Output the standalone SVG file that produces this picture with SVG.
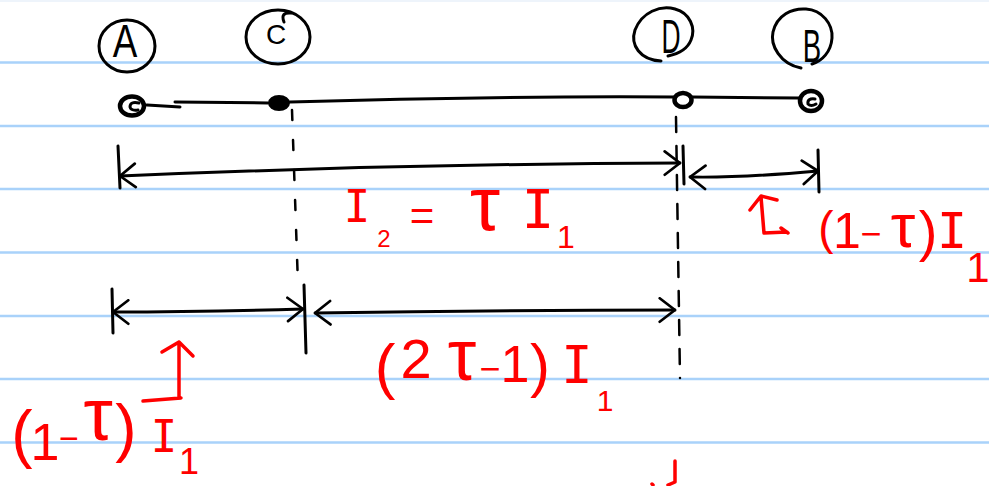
<svg xmlns="http://www.w3.org/2000/svg" width="989" height="486" viewBox="0 0 989 486">
<defs>
<style>
.rule{stroke:#a9d2fa;stroke-width:2.5;fill:none}
.ink{stroke:#000;stroke-width:3;fill:none;stroke-linecap:round;stroke-linejoin:round}
.dot{stroke:#000;stroke-width:4.5;fill:#fff}
.dash{stroke:#000;stroke-width:2.5;fill:none;stroke-linecap:round}
.red{stroke:#f00;stroke-width:3.5;fill:none;stroke-linecap:round;stroke-linejoin:round}
.lbl{font-family:"Liberation Sans","DejaVu Sans",sans-serif;fill:#000;text-anchor:middle}
.rt{font-family:"Liberation Sans","DejaVu Sans",sans-serif;fill:#f00;text-anchor:middle}
.mono{font-family:"DejaVu Sans Mono","Liberation Mono",monospace}
</style>
<marker id="ah" viewBox="0 0 20 30" refX="19" refY="15" markerWidth="18" markerHeight="27" markerUnits="userSpaceOnUse" orient="auto-start-reverse">
<path d="M2,2 L19,15 L2,28" fill="none" stroke="#000" stroke-width="3" stroke-linecap="round" stroke-linejoin="round"/>
</marker>
</defs>
<rect width="989" height="486" fill="#fff"/>
<g id="ruled-lines">
<line x1="0" y1="1" x2="989" y2="1" stroke="#eef4fb" stroke-width="2"/>
<line class="rule" x1="0" y1="62.5" x2="989" y2="62.5"/>
<line class="rule" x1="0" y1="126" x2="989" y2="126"/>
<line class="rule" x1="0" y1="189" x2="989" y2="189"/>
<line class="rule" x1="0" y1="252.5" x2="989" y2="252.5"/>
<line class="rule" x1="0" y1="316" x2="989" y2="316"/>
<line class="rule" x1="0" y1="379" x2="989" y2="379"/>
<line class="rule" x1="0" y1="442.5" x2="989" y2="442.5"/>
</g>
<g id="connectors">
<path class="ink" d="M147,105 L180,107"/>
<path class="ink" d="M175,102 L268,103"/>
<path class="ink" d="M290,102 Q480,96 675,97"/>
<path class="ink" d="M692,97 L800,98"/>
<path class="dash" d="M292,110 L298,285" stroke-dasharray="10 20"/>
<path class="dash" d="M676,117 L680,378" stroke-dasharray="15 14"/>
<path class="ink" d="M118,146 L120,188"/>
<path class="ink" d="M683,146 L684,184"/>
<path class="ink" d="M120,176 Q400,164 680,163" marker-start="url(#ah)" marker-end="url(#ah)"/>
<path class="ink" d="M818,150 L819,192"/>
<path class="ink" d="M690,177 Q740,178 818,171" marker-start="url(#ah)" marker-end="url(#ah)"/>
<path class="ink" d="M112,289 L113,333"/>
<path class="ink" d="M304,285 L306,353"/>
<path class="ink" d="M113,312 Q200,312 303,309" marker-start="url(#ah)" marker-end="url(#ah)"/>
<path class="ink" d="M315,313 Q500,310 675,310" marker-start="url(#ah)" marker-end="url(#ah)"/>
<path class="red" d="M764,233 L761,197 M750,210 L761,196 L777,200 M764,233 L787,232 M781,228 L788,233"/>
<path class="red" d="M179,398 L179,342 M162,352 L179,342 L193,356 M181,398 L143,401"/>
<path class="red" d="M675,461 L675,482 L668,485 M652,484 L653,485"/>
</g>
<g id="node-A">
<ellipse class="ink" cx="127" cy="46" rx="28" ry="26"/>
<text class="lbl" x="125" y="57" font-size="46" transform="translate(125,0) scale(0.8,1) translate(-125,0)">A</text>
<ellipse class="dot" cx="132" cy="106" rx="12" ry="9.5"/>
<path class="ink" d="M139,103 Q130,101 130,107 Q131,111 138,110"/>
</g>
<g id="node-C">
<ellipse class="ink" cx="278" cy="37" rx="32" ry="27"/>
<path class="ink" d="M284,22 Q280,12 291,13"/>
<text class="lbl" x="276" y="44" font-size="28">C</text>
<ellipse cx="279" cy="103" rx="11" ry="8" fill="#000"/>
</g>
<g id="node-D">
<path class="ink" d="M661,61 C640,60 630,45 635,30 C642,12 660,5 675,9 C690,13 696,28 691,40 C687,50 678,54 668,56"/>
<text class="lbl" x="671" y="53" font-size="48" transform="translate(671,0) scale(0.55,1) translate(-671,0)">D</text>
<ellipse class="dot" cx="683" cy="100" rx="8.5" ry="7"/>
</g>
<g id="node-B">
<path class="ink" d="M801,68 C780,64 770,45 773,32 C777,15 792,8 806,9 C822,10 833,24 832,38 C831,52 822,61 812,64"/>
<text class="lbl" x="812" y="62" font-size="46" transform="translate(812,0) scale(0.6,1) translate(-812,0)">B</text>
<ellipse class="dot" cx="811" cy="101" rx="11" ry="10"/>
<path class="ink" d="M815,99 Q807,98 808,104 Q811,107 816,104"/>
</g>
<g id="labels">
<text class="rt"><tspan class="mono" x="357" y="222" font-size="44">I</tspan><tspan x="384" y="247" font-size="24">2</tspan><tspan x="422" y="230" font-size="42">=</tspan><tspan x="485" y="230" font-size="76">τ</tspan><tspan class="mono" x="538" y="228" font-size="54">I</tspan><tspan x="566" y="248" font-size="32">1</tspan></text>
<text class="rt"><tspan x="826" y="244" font-size="46">(</tspan><tspan x="847" y="248" font-size="50">1</tspan><tspan x="871" y="246" font-size="36">−</tspan><tspan x="903" y="247" font-size="62">τ</tspan><tspan x="928" y="250" font-size="56">)</tspan><tspan class="mono" x="952" y="248" font-size="50">I</tspan><tspan x="978" y="282" font-size="42">1</tspan></text>
<text class="rt"><tspan x="385" y="387" font-size="62">(</tspan><tspan x="416" y="378" font-size="56">2</tspan><tspan x="462" y="380" font-size="72">τ</tspan><tspan x="490" y="381" font-size="36">−</tspan><tspan x="515" y="382" font-size="52">1</tspan><tspan x="540" y="386" font-size="60">)</tspan><tspan class="mono" x="577" y="383" font-size="52">I</tspan><tspan x="605" y="411" font-size="30">1</tspan></text>
<text class="rt"><tspan x="22" y="456" font-size="64">(</tspan><tspan x="45" y="460" font-size="52">1</tspan><tspan x="69" y="450" font-size="34">−</tspan><tspan x="98" y="440" font-size="74">τ</tspan><tspan x="126" y="450" font-size="64">)</tspan><tspan class="mono" x="164" y="452" font-size="44">I</tspan><tspan x="189" y="474" font-size="36">1</tspan></text>
</g>
</svg>
